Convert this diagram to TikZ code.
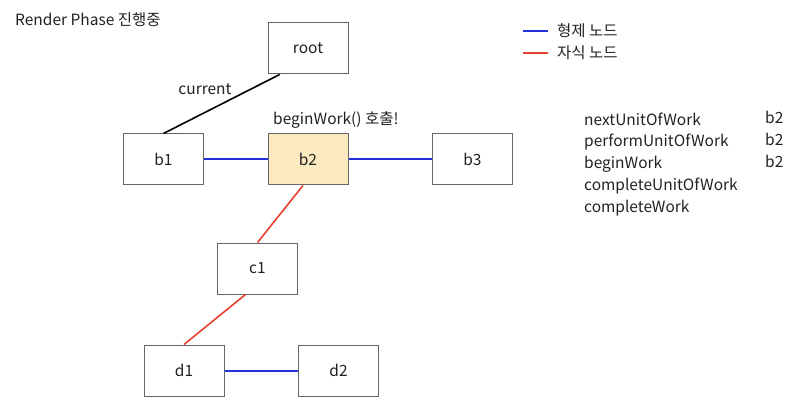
\documentclass[tikz,border=0pt]{standalone}
\usepackage{fontspec}
\setmainfont{Noto Sans CJK KR}
\usetikzlibrary{calc}
\definecolor{sibblue}{HTML}{2230DD}
\definecolor{childred}{HTML}{E8402F}
\definecolor{boxgray}{HTML}{666666}
\definecolor{workfill}{HTML}{FBEABF}
\definecolor{txt}{HTML}{222222}
\begin{document}
\begin{tikzpicture}[x=1pt, y=-1pt]
\tikzset{ box/.style={draw=boxgray, line width=1pt, minimum width=80pt, minimum height=51pt, inner sep=0pt, text=txt, font=\fontsize{15.5}{17}\selectfont},
  lbl/.style={text=txt, inner sep=0pt, font=\fontsize{15.5}{17}\selectfont},
  sib/.style={sibblue, line width=2pt},
  child/.style={childred, line width=1.6pt},
}
\useasboundingbox (0,0) rectangle (800,414);

%%% Blocos

% root
\node [box] (root) at (308,48.5) {root};

% irmaos b
\node [box] (b1) at (163.5,159.5) {b1};
\node [box, fill=workfill] (b2) at (308,159.5) {b2};
\node [box] (b3) at (472.5,159.5) {b3};

% filho c
\node [box] (c1) at (257.5,268.5) {c1};

% filhos d
\node [box] (d1) at (184,370.5) {d1};
\node [box] (d2) at (338.5,370.5) {d2};

%%% Textos
\node [lbl, anchor=west] (title) at (15,20) {Render Phase 진행중};
\node [lbl] (cur) at (205,89) {current};
\node [lbl, anchor=west] (bw) at (273,120) {beginWork() 호출!};

% legenda
\coordinate (sib0) at (523,31);
\coordinate (sib1) at (548,31);
\coordinate (chd0) at (523,53);
\coordinate (chd1) at (548,53);
\draw [sib] (sib0) -- (sib1);
\draw [child] (chd0) -- (chd1);
\node [lbl, anchor=west] (sibtxt) at (557,31) {형제 노드};
\node [lbl, anchor=west] (chdtxt) at (557,53) {자식 노드};

% lista
\node [lbl, anchor=west] (nuow) at (584,119) {nextUnitOfWork};
\node [lbl, anchor=west] (puow) at (584,142) {performUnitOfWork};
\node [lbl, anchor=west] (bwk)  at (584,164) {beginWork};
\node [lbl, anchor=west] (cuow) at (584,186) {completeUnitOfWork};
\node [lbl, anchor=west] (cwk)  at (584,208) {completeWork};
\node [lbl, anchor=west] (nuowv) at (765,117) {b2};
\node [lbl, anchor=west] (puowv) at (765,139) {b2};
\node [lbl, anchor=west] (bwkv)  at (765,161) {b2};

%%% Linhas

% current
\draw [black, line width=1.6pt] ($(root.south west)!0.15!(root.south east)$) -- (b1.north);

% irmaos
\draw [sib] (b1) -- (b2);
\draw [sib] (b2) -- (b3);
\draw [sib] (d1) -- (d2);

% filhos
\draw [child] ($(b2.south)+(-5,0)$) -- (c1.north);
\draw [child] ($(c1.south)+(-12,0)$) -- (d1.north);

\end{tikzpicture}
\end{document}
